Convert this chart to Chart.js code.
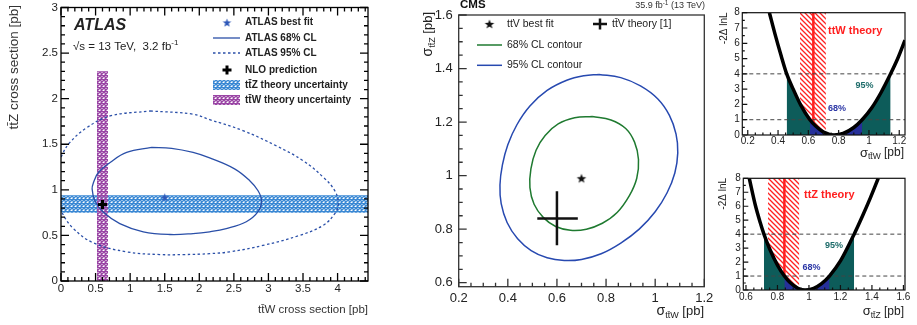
<!DOCTYPE html>
<html>
<head>
<meta charset="utf-8">
<script src="https://cdn.jsdelivr.net/npm/chart.js@4.4.1/dist/chart.umd.min.js"></script>
<style>
  body { margin: 0; background: #fff; width: 917px; height: 325px; overflow: hidden; position: relative; }
  canvas { position: absolute; }
</style>
</head>
<body>
<canvas id="atlas" width="380" height="325" style="left:0;top:0"></canvas>
<canvas id="cms" width="315" height="325" style="left:400px;top:0"></canvas>
<canvas id="ttw" width="205" height="162" style="left:712px;top:0"></canvas>
<canvas id="ttz" width="205" height="163" style="left:712px;top:162px"></canvas>
<script>
const FONT = '"Liberation Sans", Arial, Helvetica, sans-serif';
Chart.defaults.font.family = FONT;
Chart.defaults.color = '#222';

// ATLAS panel (pb)
const atlasXLim = [0, 4.44];
const atlasYLim = [0, 3];
const atlasBest = [1.5, 0.92];
const atlasNLO = [0.6, 0.84];
const ttzTheoryBand = [0.75, 0.94];
const ttwTheoryBand = [0.52, 0.68, 2.3];
const atlas68 = [[1.31,1.465],[1.6,1.455],[1.91,1.41],[2.15,1.35],[2.51,1.23],[2.73,1.10],[2.85,0.99],[2.90,0.88],
  [2.85,0.76],[2.68,0.65],[2.39,0.575],[2.15,0.54],[1.91,0.52],[1.575,0.51],[1.19,0.54],[0.85,0.63],[0.61,0.756],
  [0.49,0.88],[0.45,1.01],[0.47,1.08],[0.54,1.19],[0.71,1.30],[0.95,1.41],[1.31,1.465]];
const atlas95 = [[1.29,1.865],[1.91,1.83],[2.15,1.77],[2.63,1.65],[3.12,1.48],[3.50,1.32],[3.79,1.14],[3.96,0.99],
  [4.01,0.85],[3.96,0.74],[3.79,0.61],[3.45,0.50],[2.92,0.39],[2.44,0.32],[2.15,0.30],[1.77,0.29],[1.43,0.29],
  [0.95,0.32],[0.47,0.418],[0.18,0.575],[0.01,0.756],[-0.06,0.9],[-0.07,1.07],[-0.04,1.25],[0.02,1.39],[0.13,1.52],
  [0.37,1.68],[0.71,1.81],[1.29,1.865]];

// CMS panel (pb)
const cmsXLim = [0.2, 1.2];
const cmsYLim = [0.585, 1.6];
const cmsBest = [0.70, 0.99];
const cmsTheoryW = [0.52, 0.60, 0.685];
const cmsTheoryZ = [0.74, 0.84, 0.942];
const cms68 = [[0.744,1.221],[0.820,1.208],[0.880,1.176],[0.916,1.125],[0.932,1.06],[0.925,0.99],[0.895,0.925],
  [0.845,0.862],[0.785,0.822],[0.72,0.800],[0.655,0.796],[0.595,0.810],[0.545,0.843],[0.507,0.893],[0.490,0.955],
  [0.494,1.025],[0.515,1.095],[0.552,1.150],[0.605,1.193],[0.672,1.216],[0.744,1.221]];
const cms95 = [[0.771,1.378],[0.860,1.366],[0.940,1.335],[1.010,1.287],[1.058,1.225],[1.085,1.155],[1.092,1.085],
  [1.080,1.010],[1.048,0.935],[1.000,0.865],[0.935,0.800],[0.860,0.748],[0.780,0.708],[0.700,0.687],[0.630,0.683],
  [0.560,0.693],[0.495,0.720],[0.440,0.764],[0.397,0.825],[0.373,0.895],[0.368,0.965],[0.378,1.040],[0.400,1.115],
  [0.437,1.190],[0.490,1.260],[0.560,1.318],[0.640,1.356],[0.710,1.373],[0.771,1.378]];

// likelihood scans (-2 delta lnL)
const levels = [1, 4];
const ttwXLim = [0.164, 1.238];
const ttwScan = [[0.343,8],[0.38,6.6],[0.42,5.2],[0.457,4],[0.50,3.0],[0.55,1.95],[0.61,1],[0.65,0.57],[0.70,0.19],
  [0.77,0],[0.83,0.1],[0.90,0.49],[0.955,1],[1.02,1.8],[1.08,2.78],[1.143,4],[1.19,5.0],[1.238,6.2]];
const ttw68 = [0.61, 0.955];
const ttw95 = [0.457, 1.143];
const ttwTheory = [0.633, 0.545, 0.716];
const ttzXLim = [0.583, 1.61];
const ttzScan = [[0.621,8],[0.66,6.05],[0.69,4.85],[0.714,4],[0.75,2.95],[0.80,1.78],[0.844,1],[0.88,0.53],[0.93,0.12],
  [0.975,0],[1.03,0.125],[1.08,0.46],[1.13,1],[1.20,2.08],[1.287,4],[1.34,5.3],[1.39,6.6],[1.44,8]];
const ttz68 = [0.844, 1.13];
const ttz95 = [0.714, 1.287];
const ttzTheory = [0.844, 0.74, 0.939];

const pts = a => a.map(([x, y]) => ({x, y}));

function hatch(ctx, color, size, lw, cross, bg) {
  const c = document.createElement('canvas');
  c.width = c.height = size;
  const g = c.getContext('2d');
  if (bg) { g.fillStyle = bg; g.fillRect(0, 0, size, size); }
  g.strokeStyle = color; g.lineWidth = lw; g.beginPath();
  for (const o of [-size, 0, size]) { g.moveTo(o - 1, -1); g.lineTo(o + size + 1, size + 1); }
  if (cross) for (const o of [-size, 0, size]) { g.moveTo(o - 1, size + 1); g.lineTo(o + size + 1, -1); }
  g.stroke();
  return ctx.createPattern(c, 'repeat');
}

function starImg(color, r) {
  const s = Math.ceil(2 * r + 2), c = document.createElement('canvas');
  c.width = c.height = s;
  const g = c.getContext('2d');
  g.fillStyle = color; g.beginPath();
  for (let i = 0; i < 10; i++) {
    const rr = i % 2 ? r * 0.42 : r, a = -Math.PI / 2 + i * Math.PI / 5;
    g.lineTo(s / 2 + rr * Math.cos(a), s / 2 + rr * Math.sin(a) + 0.5);
  }
  g.closePath(); g.fill();
  return c;
}

function rich(ctx, x, y, parts, align, rot) {
  ctx.save();
  ctx.translate(x, y);
  if (rot) ctx.rotate(rot);
  let w = 0;
  for (const p of parts) { ctx.font = p.f; w += ctx.measureText(p.t).width; }
  let cx = align === 'right' ? -w : align === 'center' ? -w / 2 : 0;
  ctx.textBaseline = 'middle'; ctx.textAlign = 'left';
  for (const p of parts) {
    ctx.font = p.f; ctx.fillStyle = p.c || '#111';
    ctx.fillText(p.t, cx, p.dy || 0);
    cx += ctx.measureText(p.t).width;
  }
  ctx.restore();
}

// fixed axis sizes so the plot frames land where the reference has them
function fix(size) {
  return s => {
    if (s.isHorizontal()) s.height = size; else s.width = size;
    s.paddingTop = s.paddingBottom = s.paddingLeft = s.paddingRight = 0;
  };
}

function frameTicks(spec) {
  return {
    id: 'frameTicks',
    afterDatasetsDraw(chart) {
      const {ctx, chartArea: a} = chart;
      ctx.save();
      ctx.strokeStyle = spec.color; ctx.lineWidth = spec.width;
      ctx.beginPath();
      for (const k of ['x', 'y']) {
        const s = chart.scales[k], t = spec[k];
        const i0 = Math.ceil(s.min / t.minor - 1e-6), i1 = Math.floor(s.max / t.minor + 1e-6);
        for (let i = i0; i <= i1; i++) {
          const v = i * t.minor, r = v / t.major;
          const len = Math.abs(r - Math.round(r)) < 1e-6 ? t.len : t.len * 0.5;
          const p = s.getPixelForValue(v);
          for (const side of t.sides) {
            if (side === 'bottom') { ctx.moveTo(p, a.bottom); ctx.lineTo(p, a.bottom - len); }
            if (side === 'top') { ctx.moveTo(p, a.top); ctx.lineTo(p, a.top + len); }
            if (side === 'left') { ctx.moveTo(a.left, p); ctx.lineTo(a.left + len, p); }
            if (side === 'right') { ctx.moveTo(a.right, p); ctx.lineTo(a.right - len, p); }
          }
        }
      }
      ctx.stroke();
      ctx.strokeRect(a.left, a.top, a.right - a.left, a.bottom - a.top);
      ctx.restore();
    }
  };
}

function axes(xlim, ylim, xstep, ystep, yw, xh, fontSize, pad) {
  const tick = {autoSkip: false, maxRotation: 0, includeBounds: false, font: {size: fontSize}, color: '#222',
    callback: v => String(Math.round(v * 1000) / 1000)};
  const grid = {display: false, drawTicks: false};
  return {
    x: {type: 'linear', min: xlim[0], max: xlim[1], grid, border: {display: false},
        ticks: {...tick, stepSize: xstep, padding: pad[0]}, afterFit: fix(xh)},
    y: {type: 'linear', min: ylim[0], max: ylim[1], grid, border: {display: false},
        ticks: {...tick, stepSize: ystep, padding: pad[1]}, afterFit: fix(yw)}
  };
}

const base = (layoutPad, scales) => ({
  responsive: false, animation: false, devicePixelRatio: 1, events: [],
  layout: {padding: layoutPad},
  elements: {point: {radius: 0}, line: {tension: 0}},
  plugins: {legend: {display: false}, tooltip: {enabled: false}},
  scales
});

// ---------- ATLAS ----------
const actx = document.getElementById('atlas').getContext('2d');
const atlasBlue = '#2a4fa8';
const zHatch = hatch(actx, '#3a88d4', 4, 1.45, true);
const wHatch = hatch(actx, '#9a45a5', 4, 1.45, true);
const atlasStar = starImg('#2d57b8', 4.5);

new Chart(actx, {
  type: 'line',
  data: {datasets: [
    {data: [{x: atlasNLO[0], y: atlasNLO[1]}], showLine: false, pointStyle: 'cross', pointRadius: 4.5,
     borderColor: '#000', borderWidth: 3, order: 0},
    {data: [{x: atlasBest[0], y: atlasBest[1]}], showLine: false, pointStyle: atlasStar, pointRadius: 5, order: 1},
    {data: pts(atlas68), borderColor: atlasBlue, borderWidth: 1.3, tension: 0.4, order: 2},
    {data: pts(atlas95), borderColor: atlasBlue, borderWidth: 1.3, borderDash: [2.5, 2.5], tension: 0.4, order: 3},
    {data: [{x: ttwTheoryBand[0], y: ttwTheoryBand[2]}, {x: ttwTheoryBand[1], y: ttwTheoryBand[2]}],
     borderColor: 'transparent', borderWidth: 0, fill: 'origin', backgroundColor: wHatch, order: 4},
    {data: [{x: atlasXLim[0], y: ttzTheoryBand[1]}, {x: atlasXLim[1], y: ttzTheoryBand[1]}],
     borderColor: 'transparent', borderWidth: 0, fill: {value: ttzTheoryBand[0]}, backgroundColor: zHatch, order: 5}
  ]},
  options: base({left: 0, top: 5, right: 12, bottom: 0},
    axes(atlasXLim, atlasYLim, 0.5, 0.5, 61, 44, 11.5, [1, 3])),
  plugins: [frameTicks({color: '#000', width: 1.3,
      x: {major: 0.5, minor: 0.1, len: 8, sides: ['bottom', 'top']},
      y: {major: 0.5, minor: 0.1, len: 8, sides: ['left', 'right']}}),
    {id: 'deco', afterDraw(chart) {
      const ctx = chart.ctx;
      rich(ctx, 14, 5, [{t: 'tt\u0304Z cross section [pb]', f: `13.5px ${FONT}`, c: '#333'}], 'right', -Math.PI / 2);
      rich(ctx, 368, 310, [{t: 'tt\u0304W cross section [pb]', f: `11.5px ${FONT}`, c: '#333'}], 'right');
      rich(ctx, 74, 26, [{t: 'ATLAS', f: `italic bold 16px ${FONT}`, c: '#222'}], 'left');
      rich(ctx, 73, 47, [{t: '\u221As = 13 TeV,  3.2 fb', f: `11.5px ${FONT}`, c: '#222'},
        {t: '-1', f: `8px ${FONT}`, c: '#222', dy: -4}], 'left');
      const lf = `bold 10px ${FONT}`, tx = 245, sx = 227;
      const rows = [22.5, 38, 53, 70, 85, 100];
      ctx.drawImage(atlasStar, sx - atlasStar.width / 2, rows[0] - atlasStar.height / 2);
      ctx.save();
      ctx.strokeStyle = atlasBlue; ctx.lineWidth = 1.3;
      ctx.beginPath(); ctx.moveTo(213, rows[1]); ctx.lineTo(240, rows[1]); ctx.stroke();
      ctx.setLineDash([2.5, 2.5]);
      ctx.beginPath(); ctx.moveTo(213, rows[2]); ctx.lineTo(240, rows[2]); ctx.stroke();
      ctx.setLineDash([]);
      ctx.strokeStyle = '#000'; ctx.lineWidth = 3;
      ctx.beginPath(); ctx.moveTo(sx - 4.5, rows[3]); ctx.lineTo(sx + 4.5, rows[3]);
      ctx.moveTo(sx, rows[3] - 4.5); ctx.lineTo(sx, rows[3] + 4.5); ctx.stroke();
      ctx.fillStyle = zHatch; ctx.fillRect(213, rows[4] - 5, 27, 10);
      ctx.fillStyle = wHatch; ctx.fillRect(213, rows[5] - 5, 27, 10);
      ctx.restore();
      const labels = ['ATLAS best fit', 'ATLAS 68% CL', 'ATLAS 95% CL', 'NLO prediction',
        'tt\u0304Z theory uncertainty', 'tt\u0304W theory uncertainty'];
      labels.forEach((t, i) => rich(ctx, tx, rows[i], [{t, f: lf, c: '#222'}], 'left'));
    }}]
});

// ---------- CMS ----------
const cctx = document.getElementById('cms').getContext('2d');
const cmsGreen = '#1f7a30', cmsBlue = '#2749b0';
const cmsStar = starImg('#111', 5);
new Chart(cctx, {
  type: 'line',
  data: {datasets: [
    {data: [{x: cmsBest[0], y: cmsBest[1]}], showLine: false, pointStyle: cmsStar, pointRadius: 5, order: 0},
    {data: [{x: cmsTheoryW[0], y: cmsTheoryZ[1]}, {x: cmsTheoryW[2], y: cmsTheoryZ[1]}], borderColor: '#111', borderWidth: 2.5, order: 1},
    {data: [{x: cmsTheoryW[1], y: cmsTheoryZ[0]}, {x: cmsTheoryW[1], y: cmsTheoryZ[2]}], borderColor: '#111', borderWidth: 2.5, order: 1},
    {data: pts(cms68), borderColor: cmsGreen, borderWidth: 1.5, tension: 0.4, order: 2},
    {data: pts(cms95), borderColor: cmsBlue, borderWidth: 1.5, tension: 0.4, order: 3}
  ]},
  options: base({left: 0, top: 15, right: 10.7, bottom: 0},
    axes(cmsXLim, cmsYLim, 0.2, 0.2, 58.7, 38.3, 13, [4, 6])),
  plugins: [frameTicks({color: '#333', width: 1.3,
      x: {major: 0.2, minor: 0.05, len: 8, sides: ['bottom']},
      y: {major: 0.2, minor: 0.05, len: 8, sides: ['left']}}),
    {id: 'deco', afterDraw(chart) {
      const ctx = chart.ctx;
      ctx.save(); ctx.translate(-400, 0);
      rich(ctx, 460, 5, [{t: 'CMS', f: `bold 11.5px ${FONT}`, c: '#111'}], 'left');
      rich(ctx, 705, 6, [{t: '35.9 fb', f: `9px ${FONT}`, c: '#333'}, {t: '-1', f: `6.5px ${FONT}`, c: '#333', dy: -3},
        {t: ' (13 TeV)', f: `9px ${FONT}`, c: '#333'}], 'right');
      rich(ctx, 428, 12, [{t: '\u03C3', f: `14px ${FONT}`, c: '#222'}, {t: 'tt\u0304Z', f: `9px ${FONT}`, c: '#222', dy: 5},
        {t: ' [pb]', f: `13px ${FONT}`, c: '#222'}], 'right', -Math.PI / 2);
      rich(ctx, 704, 311, [{t: '\u03C3', f: `14px ${FONT}`, c: '#222'}, {t: 'tt\u0304W', f: `9px ${FONT}`, c: '#222', dy: 5},
        {t: ' [pb]', f: `13px ${FONT}`, c: '#222'}], 'right');
      const lf = `10.5px ${FONT}`;
      ctx.drawImage(cmsStar, 489.5 - cmsStar.width / 2, 24 - cmsStar.height / 2);
      ctx.strokeStyle = '#111'; ctx.lineWidth = 2.5;
      ctx.beginPath(); ctx.moveTo(593, 24); ctx.lineTo(607, 24); ctx.moveTo(600, 18.5); ctx.lineTo(600, 29.5); ctx.stroke();
      ctx.lineWidth = 1.5;
      ctx.strokeStyle = cmsGreen; ctx.beginPath(); ctx.moveTo(477, 45); ctx.lineTo(502, 45); ctx.stroke();
      ctx.strokeStyle = cmsBlue; ctx.beginPath(); ctx.moveTo(477, 65.3); ctx.lineTo(502, 65.3); ctx.stroke();
      rich(ctx, 507, 24, [{t: 'ttV best fit', f: lf, c: '#222'}], 'left');
      rich(ctx, 612, 24, [{t: 'tt\u0304V theory [1]', f: lf, c: '#222'}], 'left');
      rich(ctx, 507, 45, [{t: '68% CL contour', f: lf, c: '#222'}], 'left');
      rich(ctx, 507, 65.3, [{t: '95% CL contour', f: lf, c: '#222'}], 'left');
      ctx.restore();
    }}]
});

// ---------- likelihood scans ----------
const teal = '#0d5c5a', deepBlue = '#26309a', red = '#ff2020';
function scanChart(id, ox, oy, scan, cl68, cl95, theory, xlim, pad, yw, xh, xpad, labels) {
  const ctx = document.getElementById(id).getContext('2d');
  const redHatch = hatch(ctx, red, 5, 1.3, false, '#fff');
  const inside = r => pts(scan.filter(p => p[0] >= r[0] - 1e-9 && p[0] <= r[1] + 1e-9));
  const ds = [
    {data: pts(scan), borderColor: '#000', borderWidth: 3.5, cubicInterpolationMode: 'monotone', order: 0},
    ...levels.map(l => ({data: [{x: xlim[0], y: l}, {x: xlim[1], y: l}], borderColor: '#444', borderWidth: 1,
      borderDash: [4, 3], order: 1})),
    {data: inside(cl68), borderColor: 'transparent', borderWidth: 0, fill: 'origin', backgroundColor: deepBlue,
     cubicInterpolationMode: 'monotone', order: 2},
    {data: inside(cl95), borderColor: 'transparent', borderWidth: 0, fill: 'origin', backgroundColor: teal,
     cubicInterpolationMode: 'monotone', order: 3},
    {data: [{x: theory[0], y: 0}, {x: theory[0], y: 8}], borderColor: red, borderWidth: 2.5, order: 4},
    {data: [{x: theory[1], y: 8}, {x: theory[2], y: 8}], borderColor: 'transparent', borderWidth: 0, fill: 'origin',
     backgroundColor: redHatch, order: 5}
  ];
  new Chart(ctx, {
    type: 'line',
    data: {datasets: ds},
    options: base(pad, axes(xlim, [0, 8], 0.2, 1, yw, xh, 10, [xpad, 2.5])),
    plugins: [frameTicks({color: '#111', width: 1.2,
        x: {major: 0.2, minor: 0.05, len: 5, sides: ['bottom']},
        y: {major: 1, minor: 0.5, len: 5, sides: ['left']}}),
      {id: 'deco', afterDraw(chart) {
        const c = chart.ctx;
        c.save(); c.translate(-ox, -oy);
        labels.forEach(l => rich(c, l.x, l.y, l.parts, l.align, l.rot));
        c.restore();
      }}]
  });
}

const sub = s => [{t: '\u03C3', f: `13px ${FONT}`, c: '#222'}, {t: s, f: `8.5px ${FONT}`, c: '#222', dy: 4},
  {t: ' [pb]', f: `12px ${FONT}`, c: '#222'}];
const ylab = [{t: '-2\u0394 lnL', f: `10px ${FONT}`, c: '#222'}];

scanChart('ttw', 712, 0, ttwScan, ttw68, ttw95, ttwTheory, ttwXLim,
  {left: 0, top: 12.7, right: 12, bottom: 0}, 30.3, 27, 0, [
    {x: 724, y: 12.5, parts: ylab, align: 'right', rot: -Math.PI / 2},
    {x: 904, y: 153, parts: sub('tt\u0304W'), align: 'right'},
    {x: 828, y: 31, parts: [{t: 'ttW theory', f: `bold 11px ${FONT}`, c: red}], align: 'left'},
    {x: 855.5, y: 86, parts: [{t: '95%', f: `bold 9px ${FONT}`, c: '#1c6b69'}], align: 'left'},
    {x: 828, y: 108.5, parts: [{t: '68%', f: `bold 9px ${FONT}`, c: '#2a35a5'}], align: 'left'}
  ]);

scanChart('ttz', 712, 162, ttzScan, ttz68, ttz95, ttzTheory, ttzXLim,
  {left: 0, top: 16.3, right: 12, bottom: 0}, 31.3, 35, 1, [
    {x: 723.5, y: 178, parts: ylab, align: 'right', rot: -Math.PI / 2},
    {x: 904, y: 311.5, parts: sub('tt\u0304Z'), align: 'right'},
    {x: 804, y: 194.5, parts: [{t: 'ttZ theory', f: `bold 11px ${FONT}`, c: red}], align: 'left'},
    {x: 825, y: 246, parts: [{t: '95%', f: `bold 9px ${FONT}`, c: '#1c6b69'}], align: 'left'},
    {x: 802.5, y: 267.5, parts: [{t: '68%', f: `bold 9px ${FONT}`, c: '#2a35a5'}], align: 'left'}
  ]);
</script>
</body>
</html>
